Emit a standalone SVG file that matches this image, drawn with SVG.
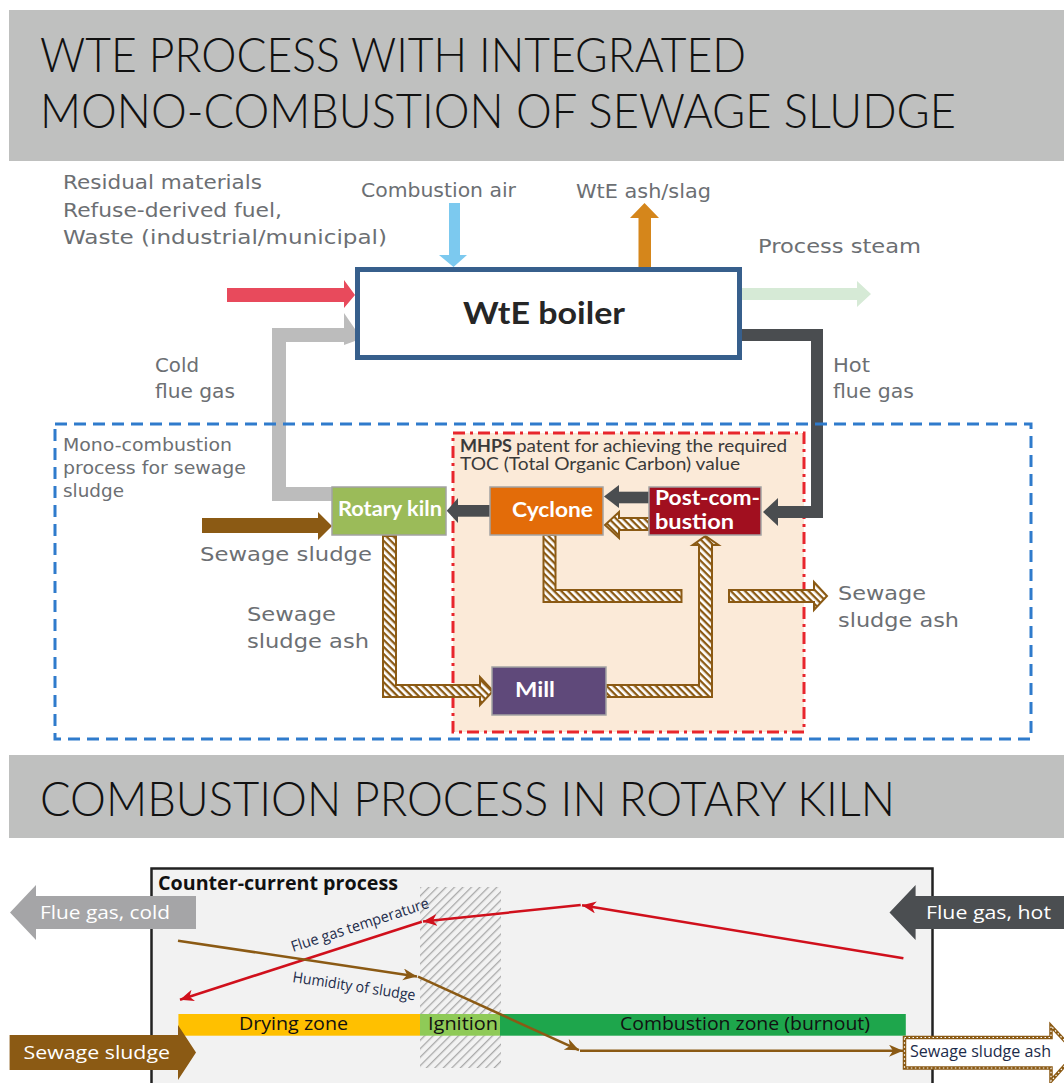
<svg xmlns="http://www.w3.org/2000/svg" width="1064" height="1083" viewBox="0 0 1064 1083">
<defs>
<style>
.title{font-family:Lato,"Liberation Sans",sans-serif;font-weight:300;font-size:48px;fill:#111}
.lbl{font-family:"DejaVu Sans",Verdana,sans-serif;font-size:19px;fill:#6c6f73}
.lbls{font-family:"DejaVu Sans",Verdana,sans-serif;font-size:17.5px;fill:#6c6f73}
.node{font-family:Lato,"Liberation Sans",sans-serif;font-weight:700;font-size:21px;fill:#fff}
.mh{font-family:Lato,"Liberation Sans",sans-serif;font-size:16.5px;fill:#3a3a3a}
.bt{font-family:"Open Sans","Noto Sans",sans-serif;font-size:19px}
.box{stroke:#a3a3a3;stroke-width:1.5}
.hat{fill:url(#hatch);stroke:#8b5a14;stroke-width:2;stroke-linejoin:miter}
.dark{fill:#4a4d50}
</style>
<pattern id="hatch" width="5" height="5" patternUnits="userSpaceOnUse" patternTransform="rotate(45)">
<rect width="5" height="5" fill="#fff"/><rect width="5" height="2.3" fill="#8b5a14"/>
</pattern>
<pattern id="ghatch" width="6" height="6" patternUnits="userSpaceOnUse" patternTransform="rotate(-45)">
<rect width="6" height="6" fill="#f2f2f2"/><rect width="6" height="1.3" fill="#a9a9a9"/>
</pattern>
<marker id="ar" markerUnits="userSpaceOnUse" markerWidth="16" markerHeight="14" refX="14" refY="6" orient="auto">
<path d="M0,0 L14,6 L0,12 L4,6 z" fill="#d0101c"/>
</marker>
<marker id="ab" markerUnits="userSpaceOnUse" markerWidth="16" markerHeight="14" refX="14" refY="6" orient="auto">
<path d="M0,0 L14,6 L0,12 L4,6 z" fill="#8b5a14"/>
</marker>
</defs>
<rect width="1064" height="1083" fill="#fff"/>

<!-- Title bands -->
<g id="title1">
<rect x="9" y="10" width="1055" height="151" fill="#bfc0bf"/>
<text class="title" x="40" y="72" textLength="706" lengthAdjust="spacingAndGlyphs">WTE PROCESS WITH INTEGRATED</text>
<text class="title" x="40" y="128" textLength="916" lengthAdjust="spacingAndGlyphs">MONO-COMBUSTION OF SEWAGE SLUDGE</text>
</g>
<g id="title2">
<rect x="9" y="755" width="1055" height="83" fill="#bfc0bf"/>
<text class="title" x="40" y="816" textLength="855" lengthAdjust="spacingAndGlyphs">COMBUSTION PROCESS IN ROTARY KILN</text>
</g>

<!-- Top labels -->
<g id="labels">
<text class="lbl" x="63" y="189" textLength="199" lengthAdjust="spacingAndGlyphs">Residual materials</text>
<text class="lbl" x="63" y="217" textLength="219" lengthAdjust="spacingAndGlyphs">Refuse-derived fuel,</text>
<text class="lbl" x="63" y="244" textLength="324" lengthAdjust="spacingAndGlyphs">Waste (industrial/municipal)</text>
<text class="lbl" x="361" y="197" textLength="155" lengthAdjust="spacingAndGlyphs">Combustion air</text>
<text class="lbl" x="576" y="198" textLength="135" lengthAdjust="spacingAndGlyphs">WtE ash/slag</text>
<text class="lbl" x="758" y="253" textLength="163" lengthAdjust="spacingAndGlyphs">Process steam</text>
<text class="lbl" x="155" y="372" textLength="44" lengthAdjust="spacingAndGlyphs">Cold</text>
<text class="lbl" x="155" y="398" textLength="80" lengthAdjust="spacingAndGlyphs">flue gas</text>
<text class="lbl" x="833" y="372" textLength="37" lengthAdjust="spacingAndGlyphs">Hot</text>
<text class="lbl" x="833" y="398" textLength="81" lengthAdjust="spacingAndGlyphs">flue gas</text>
<text class="lbls" x="63" y="451" textLength="169" lengthAdjust="spacingAndGlyphs">Mono-combustion</text>
<text class="lbls" x="63" y="474" textLength="183" lengthAdjust="spacingAndGlyphs">process for sewage</text>
<text class="lbls" x="63" y="497" textLength="61" lengthAdjust="spacingAndGlyphs">sludge</text>
<text class="lbl" x="200" y="561" textLength="172" lengthAdjust="spacingAndGlyphs">Sewage sludge</text>
<text class="lbl" x="247" y="621" textLength="89" lengthAdjust="spacingAndGlyphs">Sewage</text>
<text class="lbl" x="247" y="648" textLength="122" lengthAdjust="spacingAndGlyphs">sludge ash</text>
<text class="lbl" x="838" y="600" textLength="88" lengthAdjust="spacingAndGlyphs">Sewage</text>
<text class="lbl" x="838" y="627" textLength="121" lengthAdjust="spacingAndGlyphs">sludge ash</text>
</g>

<!-- MHPS patent area -->
<g id="mhps-area">
<rect x="453" y="433" width="351" height="299" fill="#fbead8" stroke="#e8262d" stroke-width="3" stroke-dasharray="12,5,3,5"/>
<text class="mh" x="460" y="452" font-weight="700" fill="#222" textLength="52" lengthAdjust="spacingAndGlyphs">MHPS</text>
<text class="mh" x="516" y="452" textLength="271" lengthAdjust="spacingAndGlyphs">patent for achieving the required</text>
<text class="mh" x="460" y="470" textLength="280" lengthAdjust="spacingAndGlyphs">TOC (Total Organic Carbon) value</text>
</g>

<!-- Connectors -->
<g id="connectors">
<polygon points="227,288 344,288 344,280 355,295 344,308 344,302 227,302" fill="#e84a5c"/>
<polygon points="449,203 460,203 460,255 467,255 453.5,267 439,255 449,255" fill="#7cc9ef"/>
<polygon points="638.5,267 651,267 651,218 659,218 644.5,203 630,218 638.5,218" fill="#d5861b"/>
<polygon points="742,288 857,288 857,281 871,294 857,307 857,300 742,300" fill="#d6ead6"/>
<polyline points="332,494 279,494 279,335 345,335" fill="none" stroke="#bcbcbc" stroke-width="14"/>
<polygon points="344,313 355,329 355,341 344,345" fill="#bcbcbc"/>
<polyline points="742,335 817,335 817,512 778,512" fill="none" stroke="#4a4d50" stroke-width="12"/>
<polygon class="dark" points="778,498 763,512 778,526"/>
<rect class="dark" x="618" y="491.7" width="31" height="11.6"/>
<polygon class="dark" points="619,485 604,496.5 619,508"/>
<rect class="dark" x="457" y="505" width="33" height="11.7"/>
<polygon class="dark" points="458,498 446.7,510.8 458,523"/>
<polygon points="202,518 318,518 318,512 332,526 318,540 318,533 202,533" fill="#8b5a14"/>
<polygon class="hat" points="383,536 396,536 396,685 480,685 480,677 493,691 480,705 480,697 383,697"/>
<polygon class="hat" points="543.5,535 555.5,535 555.5,590 681.5,590 681.5,602 543.5,602"/>
<polygon class="hat" points="606,685 699,685 699,545 692.7,545 705.5,536 718.5,545 712,545 712,697 606,697"/>
<polygon class="hat" points="729,590 814,590 814,582 827,596 814,610 814,602 729,602"/>
<polygon class="hat" points="649,518 619,518 619,512 605,525 619,538 619,530 649,530"/>
</g>

<!-- Mono-combustion boundary -->
<g id="mono-boundary">
<rect x="55" y="424" width="976" height="315" fill="none" stroke="#2f7bcc" stroke-width="3" stroke-dasharray="12,7"/>
</g>

<!-- Nodes -->
<g id="boiler">
<rect x="357.5" y="269.5" width="382" height="88" fill="#fff" stroke="#375f8c" stroke-width="5"/>
<text x="463" y="324" font-family="Lato,'Liberation Sans',sans-serif" font-weight="700" font-size="30" fill="#262626" textLength="162" lengthAdjust="spacingAndGlyphs">WtE boiler</text>
</g>
<g id="rotary-kiln">
<rect class="box" x="332" y="487" width="114" height="48" fill="#9bbb59"/>
<text class="node" x="338" y="516" textLength="104" lengthAdjust="spacingAndGlyphs">Rotary kiln</text>
</g>
<g id="cyclone">
<rect class="box" x="490" y="487" width="113" height="48" fill="#e36c09"/>
<text class="node" x="512" y="517" textLength="81" lengthAdjust="spacingAndGlyphs">Cyclone</text>
</g>
<g id="post-combustion">
<rect class="box" x="649" y="487" width="112" height="48" fill="#a10f1f"/>
<text class="node" x="655" y="505" font-size="16.5" textLength="105" lengthAdjust="spacingAndGlyphs">Post-com-</text>
<text class="node" x="655" y="529" font-size="16.5" textLength="79" lengthAdjust="spacingAndGlyphs">bustion</text>
</g>
<g id="mill">
<rect class="box" x="492" y="667" width="114" height="48" fill="#5f497a"/>
<text class="node" x="515" y="697" textLength="40" lengthAdjust="spacingAndGlyphs">Mill</text>
</g>

<!-- Bottom: counter-current process -->
<g id="kiln-process">
<rect x="151.5" y="868.5" width="781" height="240" fill="#f2f2f2" stroke="#222" stroke-width="2.5"/>
<text class="bt" x="158" y="890" font-weight="700" fill="#111" textLength="240" lengthAdjust="spacingAndGlyphs">Counter-current process</text>
<rect x="420" y="887" width="81" height="181" fill="url(#ghatch)"/>
<rect x="178.4" y="1014" width="241.6" height="21.7" fill="#ffc000"/>
<rect x="420" y="1014" width="80" height="21.7" fill="#8fca57"/>
<rect x="500" y="1014" width="405.8" height="21.7" fill="#1ea64c"/>
<text class="bt" x="239" y="1030" fill="#111" textLength="109" lengthAdjust="spacingAndGlyphs">Drying zone</text>
<text class="bt" x="428" y="1030" fill="#111" textLength="70" lengthAdjust="spacingAndGlyphs">Ignition</text>
<text class="bt" x="620" y="1030" fill="#111" textLength="250" lengthAdjust="spacingAndGlyphs">Combustion zone (burnout)</text>
</g>
<g id="kiln-curves">
<line x1="903.4" y1="958.3" x2="582" y2="905.2" stroke="#d0101c" stroke-width="2.5" marker-end="url(#ar)"/>
<line x1="580.7" y1="905" x2="423" y2="921.5" stroke="#d0101c" stroke-width="2.5" marker-end="url(#ar)"/>
<line x1="421.8" y1="921.7" x2="180" y2="999.7" stroke="#d0101c" stroke-width="2.5" marker-end="url(#ar)"/>
<line x1="178" y1="940.7" x2="417" y2="976.5" stroke="#8b5a14" stroke-width="2.5" marker-end="url(#ab)"/>
<line x1="418" y1="976.7" x2="579" y2="1050.2" stroke="#8b5a14" stroke-width="2.5" marker-end="url(#ab)"/>
<line x1="580" y1="1050.7" x2="903" y2="1050.7" stroke="#8b5a14" stroke-width="2.5" marker-end="url(#ab)"/>
<text transform="translate(293,952) rotate(-18)" font-family="'Open Sans','Noto Sans',sans-serif" font-size="15" fill="#1c2b4a" textLength="144" lengthAdjust="spacingAndGlyphs">Flue gas temperature</text>
<text transform="translate(292,982) rotate(8.6)" font-family="'Open Sans','Noto Sans',sans-serif" font-size="15" fill="#1c2b4a" textLength="124" lengthAdjust="spacingAndGlyphs">Humidity of sludge</text>
</g>
<g id="flue-gas-cold">
<polygon points="196,896 36,896 36,885 10,912.5 36,940 36,929 196,929" fill="#a5a5a7"/>
<text class="bt" x="40" y="919" fill="#fff" textLength="130" lengthAdjust="spacingAndGlyphs">Flue gas, cold</text>
</g>
<g id="flue-gas-hot">
<polygon points="1064,896 915.6,896 915.6,885 889.5,912.5 915.6,940 915.6,929 1064,929" fill="#4b4e51"/>
<text class="bt" x="926" y="919" fill="#fff" textLength="125" lengthAdjust="spacingAndGlyphs">Flue gas, hot</text>
</g>
<g id="sewage-sludge-in">
<polygon points="9.6,1035 178,1035 178,1025 196,1052.5 178,1080 178,1070 9.6,1070" fill="#8b5a14"/>
<text class="bt" x="23.5" y="1059" fill="#fff" textLength="146.5" lengthAdjust="spacingAndGlyphs">Sewage sludge</text>
</g>
<g id="sewage-sludge-ash-out">
<polygon points="904.5,1037.5 1051,1037.5 1051,1026 1076,1053 1051,1081 1051,1068 904.5,1068" fill="#fff" stroke="#8b5a14" stroke-width="3.5"/>
<polygon points="904.5,1037.5 1051,1037.5 1051,1026 1076,1053 1051,1081 1051,1068 904.5,1068" fill="none" stroke="#fff" stroke-width="1.2" stroke-dasharray="1.5,2.5"/>
<text x="910" y="1057" font-family="'Open Sans','Noto Sans',sans-serif" font-size="16" fill="#1c2b4a" textLength="141" lengthAdjust="spacingAndGlyphs">Sewage sludge ash</text>
</g>
</svg>
